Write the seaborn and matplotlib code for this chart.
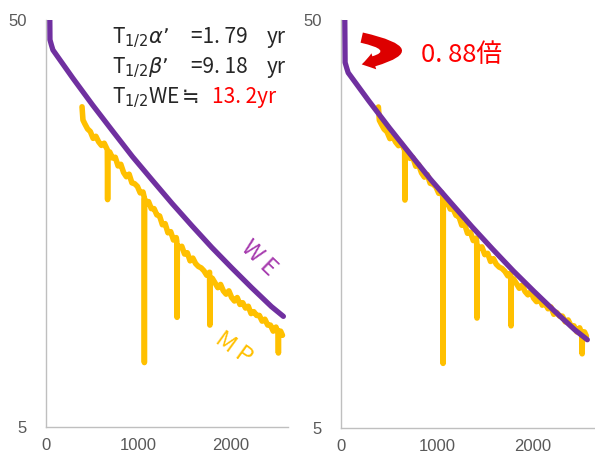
import numpy as np
import pandas as pd
import matplotlib
matplotlib.use("Agg")
import matplotlib.pyplot as plt
import seaborn as sns
from matplotlib.patches import FancyArrowPatch

# ---- data ----
we_days = [35, 43, 60, 75, 290, 505, 720, 935, 1151, 1366, 1581, 1796, 2011, 2226, 2441, 2570]
we_vals = [80, 44.7, 43.3, 42.2, 36.0, 30.9, 26.7, 23.1, 20.2, 17.7, 15.6, 13.8, 12.3, 11.0, 9.88, 9.35]
we_ratio = 0.88

mp_days = [390, 400, 420, 450, 480, 510, 540, 570, 600, 630, 664, 667, 670, 690, 720,
           750, 780, 810, 840, 870, 900, 930, 960, 990, 1020, 1050, 1062, 1065, 1068,
           1080, 1110, 1140, 1170, 1200, 1230, 1260, 1290, 1320, 1350, 1380, 1410, 1416,
           1419, 1422, 1440, 1470, 1500, 1530, 1560, 1590, 1620, 1650, 1680, 1710, 1740,
           1771, 1774, 1777, 1800, 1830, 1860, 1890, 1920, 1950, 1980, 2010, 2040, 2070,
           2100, 2130, 2160, 2190, 2220, 2250, 2280, 2310, 2340, 2370, 2400, 2430, 2460,
           2490, 2513, 2516, 2519, 2540, 2560]
mp_vals = [30.6, 28.4, 27.8, 27.0, 26.6, 25.6, 25.9, 25.1, 24.6, 24.9, 24.0, 18.1, 23.6, 23.7, 22.9,
           23.0, 21.9, 22.1, 21.1, 20.6, 20.9, 19.9, 19.8, 19.5, 18.8, 18.9, 18.4, 7.2, 18.2,
           17.6, 17.9, 17.2, 17.2, 16.6, 16.5, 15.7, 15.8, 15.0, 15.1, 14.4, 14.6, 14.3,
           9.3, 14.0, 13.8, 13.9, 13.3, 13.4, 12.8, 13.0, 12.6, 12.4, 12.3, 12.1, 11.8,
           12.0, 8.9, 11.6, 11.6, 11.3, 11.0, 11.2, 10.8, 10.6, 10.8, 10.4, 10.2, 10.4,
           10.0, 10.1, 9.8, 9.9, 9.5, 9.6, 9.4, 9.4, 9.1, 9.2, 8.9, 8.9, 8.6,
           8.8, 8.5, 7.6, 8.6, 8.6, 8.4]

x_ticks = [0, 1000, 2000]
y_ticks = [5, 50]

# ---- style ----
sns.set_style("white")
plt.rcParams['font.family'] = ['Noto Sans CJK JP', 'DejaVu Sans']
plt.rcParams['mathtext.fontset'] = 'dejavusans'

PURPLE = '#7030A0'
GOLD = '#FFC000'
GRAY = '#BFBFBF'
TICKC = '#595959'
TXT = '#262626'

W, H = 595, 455
fig = plt.figure(figsize=(W / 100, H / 100), dpi=100)

def fx(x):
    return x / W

def fy(y):
    return 1 - y / H

axL = fig.add_axes([fx(46), fy(427), (288 - 46) / W, (427 - 20) / H])
axR = fig.add_axes([fx(341), fy(428), (595 - 341) / W, (428 - 20) / H])

we_df = pd.DataFrame({'day': we_days, 'val': we_vals})
we_df['scaled'] = we_df['val'] * we_ratio
mp_df = pd.DataFrame({'day': mp_days, 'val': mp_vals})

# left panel
sns.lineplot(data=mp_df, x='day', y='val', ax=axL, color=GOLD, lw=4.0,
             estimator=None, sort=False, zorder=2)
sns.lineplot(data=we_df, x='day', y='val', ax=axL, color=PURPLE, lw=3.8,
             estimator=None, sort=False, zorder=3)
# right panel
sns.lineplot(data=mp_df, x='day', y='val', ax=axR, color=GOLD, lw=4.0,
             estimator=None, sort=False, zorder=2)
sns.lineplot(data=we_df, x='day', y='scaled', ax=axR, color=PURPLE, lw=3.8,
             estimator=None, sort=False, zorder=3)

for ax, xmax in ((axL, 2620), (axR, 2650)):
    ax.set_yscale('log')
    ax.set_ylim(5, 50)
    ax.set_xlim(0, xmax)
    ax.set_yticks(y_ticks)
    ax.set_yticklabels([str(v) for v in y_ticks])
    ax.minorticks_off()
    ax.set_xticks(x_ticks)
    ax.set_xticklabels([str(v) for v in x_ticks])
    ax.set_xlabel('')
    ax.set_ylabel('')
    for s in ('top', 'right'):
        ax.spines[s].set_visible(False)
    for s in ('left', 'bottom'):
        ax.spines[s].set_color(GRAY)
        ax.spines[s].set_linewidth(1.0)
    ax.tick_params(axis='both', length=0, labelcolor=TICKC)
    ax.tick_params(axis='y', pad=14)
    ax.tick_params(axis='x', pad=8)
    for lab in ax.get_xticklabels() + ax.get_yticklabels():
        lab.set_fontfamily(['Liberation Sans Narrow', 'Liberation Sans'])
        lab.set_fontsize(12)
    ax.set_facecolor('white')

# annotations, left panel
fs = 15
def put(x, y, s, color=TXT, size=fs):
    fig.text(fx(x), fy(y), s, fontsize=size, color=color, ha='left', va='baseline')

put(112, 43, "T$_{1/2}\\alpha$’")
put(191, 43, "=1. 79")
put(267, 43, "yr")
put(112, 73, "T$_{1/2}\\beta$’")
put(191, 73, "=9. 18")
put(267, 73, "yr")
put(112, 103, "T$_{1/2}$WE")
put(182, 103, "≒")
put(212, 103, "13. 2yr", color='#FF0000')

fig.text(fx(259), fy(258), "W E", fontsize=17, color='#A63AAE', rotation=-44,
         ha='center', va='center', rotation_mode='anchor')
fig.text(fx(234), fy(348), "M P", fontsize=17, color=GOLD, rotation=-36,
         ha='center', va='center', rotation_mode='anchor')

# annotations, right panel
fig.text(fx(421), fy(62), "0. 88倍", fontsize=18.5, color='#FF0000',
         ha='left', va='baseline')
arrow = FancyArrowPatch((fx(359), fy(37)), (fx(359), fy(65)),
                        transform=fig.transFigure,
                        connectionstyle="arc3,rad=-2.3",
                        arrowstyle="simple,head_length=9,head_width=12,tail_width=7.5",
                        color='#DD0000', lw=0)
fig.add_artist(arrow)

fig.savefig('out.png', dpi=100, facecolor='white')
